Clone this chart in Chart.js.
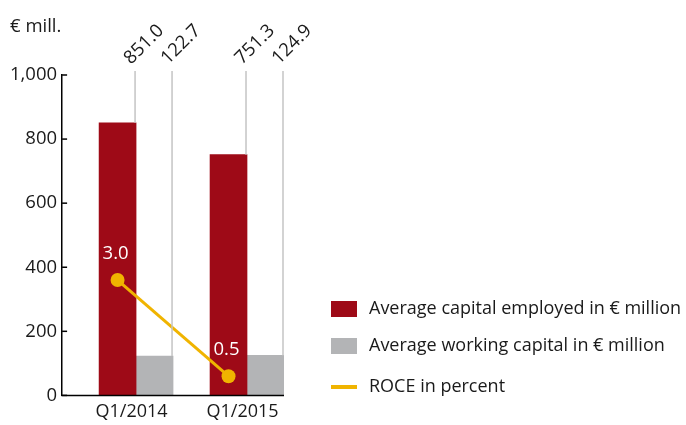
<!DOCTYPE html>
<html><head><meta charset="utf-8">
<script src="https://cdn.jsdelivr.net/npm/chart.js@4"></script>
<style>html,body{margin:0;padding:0;background:#fff}</style>
</head><body>
<canvas id="c" width="686" height="425"></canvas>
<script>
const categories = ['Q1/2014', 'Q1/2015'];
const capitalEmployed = [851.0, 751.3];
const workingCapital = [122.7, 124.9];
const roce = [3.0, 0.5];
const yMax = 1000;
const yStep = 200;
const roceMax = 1000 / 120;
const unitLabel = '€ mill.';
const seriesLabels = ['Average capital employed in € million', 'Average working capital in € million', 'ROCE in percent'];

const RED = '#9E0A17', GRAY = '#B3B4B6', ORANGE = '#F0B400', TXT = '#1a1a1a';
const FONT = '"Open Sans", sans-serif';

const overlay = {
  id: 'overlay',
  afterDatasetsDraw(chart) {
    const ctx = chart.ctx, ca = chart.chartArea;
    const ys = chart.scales.y;
    ctx.save();
    ctx.strokeStyle = '#000'; ctx.lineWidth = 1.5;
    ys.ticks.forEach(t => {
      const py = ys.getPixelForValue(t.value);
      ctx.beginPath(); ctx.moveTo(ca.left, py); ctx.lineTo(ca.left + 5, py); ctx.stroke();
    });
    // baseline to the right edge of the last bar
    const lastMeta = chart.getDatasetMeta(2);
    const lastEl = lastMeta.data[lastMeta.data.length - 1];
    const xEnd = lastEl.x + lastEl.width / 2;
    const y0 = ys.getPixelForValue(0);
    ctx.beginPath(); ctx.moveTo(ca.left - 0.75, y0); ctx.lineTo(xEnd, y0); ctx.stroke();
    [1, 2].forEach(di => {
      const meta = chart.getDatasetMeta(di);
      const vals = chart.data.datasets[di].data;
      meta.data.forEach((el, i) => {
        const lx = el.x + el.width / 2 - 1;
        ctx.strokeStyle = '#c4c4c4'; ctx.lineWidth = 1.5;
        ctx.beginPath(); ctx.moveTo(lx, el.y); ctx.lineTo(lx, ca.top - 4); ctx.stroke();
        ctx.save();
        ctx.translate(lx - 4, ca.top - 10);
        ctx.rotate(-Math.PI / 4);
        ctx.fillStyle = TXT; ctx.font = '18.5px ' + FONT;
        ctx.textAlign = 'left'; ctx.textBaseline = 'alphabetic';
        ctx.fillText(vals[i].toFixed(1), 0, 0);
        ctx.restore();
      });
    });
    const lm = chart.getDatasetMeta(3);
    ctx.fillStyle = '#fff'; ctx.font = '18.5px ' + FONT;
    ctx.textAlign = 'center'; ctx.textBaseline = 'middle';
    lm.data.forEach((p, i) => {
      ctx.fillText(chart.data.datasets[3].data[i].toFixed(1), p.x - 2, p.y - 26);
    });
    ctx.restore();
  },
  afterDraw(chart) {
    const ctx = chart.ctx;
    ctx.save();
    ctx.fillStyle = TXT; ctx.font = '18.5px ' + FONT;
    ctx.textAlign = 'left'; ctx.textBaseline = 'alphabetic';
    ctx.fillText(unitLabel, 10, 32);
    const lx = 331, tx = 369;
    const rows = [
      {c: RED, y: 309, t: chart.data.datasets[1].label, box: true},
      {c: GRAY, y: 346, t: chart.data.datasets[2].label, box: true},
      {c: ORANGE, y: 387, t: chart.data.datasets[3].label, box: false}
    ];
    ctx.font = '18px ' + FONT; ctx.textBaseline = 'middle';
    rows.forEach(r => {
      ctx.fillStyle = r.c;
      if (r.box) ctx.fillRect(lx, r.y - 8, 26, 16); else ctx.fillRect(lx, r.y - 2, 26, 4);
      ctx.fillStyle = TXT;
      ctx.fillText(r.t, tx, r.y);
    });
    ctx.restore();
  }
};

new Chart(document.getElementById('c'), {
  data: {
    labels: categories,
    datasets: [
      {type: 'bar', label: '', data: categories.map(() => null), backgroundColor: 'rgba(0,0,0,0)', order: 2},
      {type: 'bar', label: seriesLabels[0], data: capitalEmployed, backgroundColor: RED, order: 2},
      {type: 'bar', label: seriesLabels[1], data: workingCapital, backgroundColor: GRAY, order: 2},
      {type: 'line', label: seriesLabels[2], data: roce, yAxisID: 'y2', borderColor: ORANGE, borderWidth: 3,
       pointRadius: 7, pointBackgroundColor: ORANGE, pointBorderWidth: 0, order: 0}
    ]
  },
  options: {
    responsive: false,
    animation: false,
    layout: {padding: {left: 5, right: 402, top: 75, bottom: -4}},
    datasets: {bar: {barPercentage: 1, categoryPercentage: 1}},
    plugins: {legend: {display: false}, tooltip: {enabled: false}},
    scales: {
      x: {
        type: 'category',
        grid: {display: false, drawTicks: false},
        border: {display: false},
        ticks: {font: {family: FONT, size: 18}, color: TXT, padding: 6, labelOffset: 14}
      },
      y: {
        min: 0, max: yMax,
        grid: {display: false, drawTicks: false},
        border: {display: true, color: '#000', width: 1.5},
        ticks: {stepSize: yStep, font: {family: FONT, size: 18.5}, color: TXT, padding: 5,
          callback: v => v.toLocaleString('en-US')}
      },
      y2: {min: 0, max: roceMax, display: false}
    }
  },
  plugins: [overlay]
});
</script>
</body></html>
